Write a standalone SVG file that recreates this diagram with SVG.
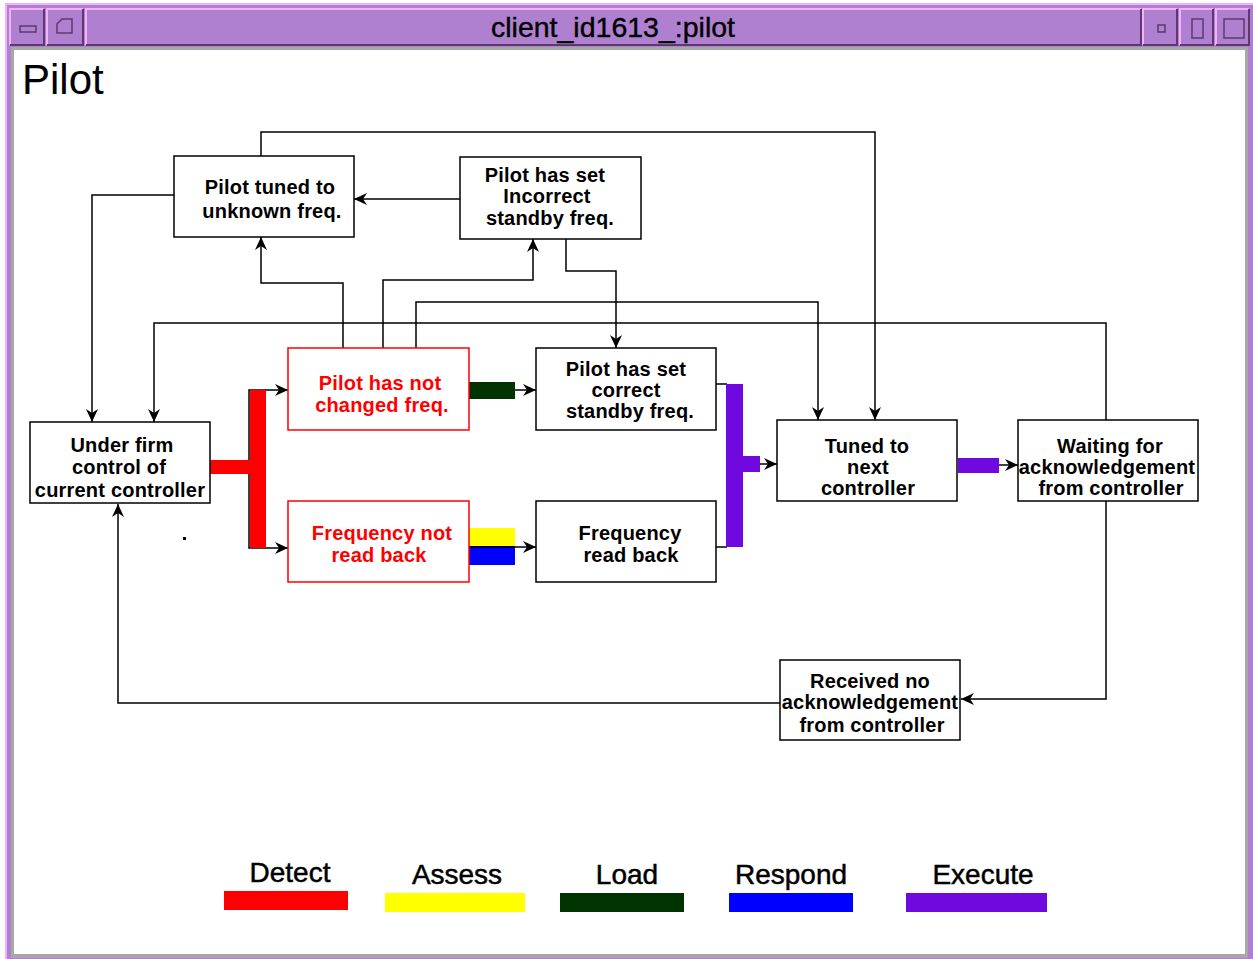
<svg xmlns="http://www.w3.org/2000/svg" width="1253" height="959" viewBox="0 0 1253 959">
<style>
.box{fill:#fff;stroke:#000;stroke-width:1.5}
.rbox{fill:#fff;stroke:#ff0000;stroke-width:1.5}
.t{font-family:"Liberation Sans",Arial,sans-serif;font-weight:bold;font-size:20px;letter-spacing:0.2px;text-anchor:middle;fill:#000}
.rt{fill:#ff0000}
.c{fill:none;stroke:#000;stroke-width:1.5}
.lg{font-family:"Liberation Sans",Arial,sans-serif;font-size:28px;text-anchor:middle;fill:#000;stroke:#000;stroke-width:0.5}
.btn{fill:#b080d0}
.hi{stroke:#f4b0fa;stroke-width:2;fill:none}
.lo{stroke:#5c3a6c;stroke-width:2;fill:none}
.ic{fill:none;stroke:#5c3a6c;stroke-width:1.5}
</style>
<defs>
<marker id="ah" markerUnits="userSpaceOnUse" markerWidth="14" markerHeight="12" refX="13" refY="6" orient="auto">
<path d="M0,0 L13,6 L0,12 L4,6 z" fill="#000"/>
</marker>
</defs>
<rect width="1253" height="959" fill="#fff"/>
<g id="window">
<rect x="5" y="3" width="1248" height="956" fill="#b080d0"/>
<line x1="5" y1="4" x2="1253" y2="4" class="hi"/>
<line x1="6" y1="4" x2="6" y2="959" class="hi"/>
<rect x="11" y="47" width="1237" height="911" fill="#a8a8a8"/>
<rect x="14" y="50" width="1231" height="904" fill="#fff"/>
<g id="btn-l1"><rect x="9" y="8" width="36" height="38" class="btn"/><path d="M10,45 V9 H44" class="hi"/><path d="M10,45 H44 V9" class="lo"/><rect x="20" y="26" width="16" height="6" class="ic"/></g>
<g id="btn-l2"><rect x="46" y="8" width="38" height="38" class="btn"/><path d="M47,45 V9 H83" class="hi"/><path d="M47,45 H83 V9" class="lo"/><path d="M57,33 V24 L62,19 H72 V33 Z" class="ic"/></g>
<g id="titlebar"><rect x="85" y="8" width="1057" height="38" class="btn"/><path d="M86,45 V9 H1141" class="hi"/><path d="M86,45 H1141 V9" class="lo"/>
<text x="613" y="37" font-family="'Liberation Sans',Arial,sans-serif" font-size="28.5" text-anchor="middle" fill="#000" stroke="#000" stroke-width="0.4">client_id1613_:pilot</text></g>
<g id="btn-r1"><rect x="1142" y="8" width="36" height="38" class="btn"/><path d="M1143,45 V9 H1177" class="hi"/><path d="M1143,45 H1177 V9" class="lo"/><rect x="1158" y="25" width="7" height="7" class="ic"/></g>
<g id="btn-r2"><rect x="1179" y="8" width="35" height="38" class="btn"/><path d="M1180,45 V9 H1213" class="hi"/><path d="M1180,45 H1213 V9" class="lo"/><rect x="1192" y="19" width="11" height="19" class="ic"/></g>
<g id="btn-r3"><rect x="1215" y="8" width="35" height="38" class="btn"/><path d="M1216,45 V9 H1249" class="hi"/><path d="M1216,45 H1249 V9" class="lo"/><rect x="1224" y="19" width="20" height="19" class="ic"/></g>
</g>
<text x="22" y="94" font-family="'Liberation Sans',Arial,sans-serif" font-size="42" fill="#000">Pilot</text>

<g id="connectors">
<polyline class="c" points="261,156 261,132 875,132 875,420" marker-end="url(#ah)"/>
<polyline class="c" points="174,195 92,195 92,422" marker-end="url(#ah)"/>
<polyline class="c" points="460,199 354,199" marker-end="url(#ah)"/>
<polyline class="c" points="343,348 343,283 261,283 261,237" marker-end="url(#ah)"/>
<polyline class="c" points="383,348 383,280 533,280 533,239" marker-end="url(#ah)"/>
<polyline class="c" points="416,348 416,302 818,302 818,420" marker-end="url(#ah)"/>
<polyline class="c" points="566,239 566,271 616,271 616,348" marker-end="url(#ah)"/>
<polyline class="c" points="1106,420 1106,323 154,323 154,422" marker-end="url(#ah)"/>
<polyline class="c" points="1106,501 1106,699 961,699" marker-end="url(#ah)"/>
<polyline class="c" points="780,703 118,703 118,504" marker-end="url(#ah)"/>
<polyline class="c" points="249,469 249,390 288,390" marker-end="url(#ah)"/>
<polyline class="c" points="249,469 249,548 288,548" marker-end="url(#ah)"/>
<rect x="210" y="460" width="40" height="14" fill="#ff0000"/>
<rect x="250" y="390" width="16" height="158" fill="#ff0000"/>
<rect x="469" y="382" width="46" height="17" fill="#003300"/>
<polyline class="c" points="515,390 536,390" marker-end="url(#ah)"/>
<rect x="469" y="528" width="46" height="18" fill="#ffff00"/>
<rect x="469" y="546" width="46" height="19" fill="#0000ff"/>
<polyline class="c" points="469,547 536,547" marker-end="url(#ah)"/>
<polyline class="c" points="716,384 727,384"/>
<polyline class="c" points="716,547 727,547"/>
<rect x="726" y="384" width="17" height="163" fill="#7008e0"/>
<rect x="743" y="456" width="17" height="16" fill="#7008e0"/>
<polyline class="c" points="760,464 777,464" marker-end="url(#ah)"/>
<rect x="958" y="458" width="41" height="15" fill="#7008e0"/>
<polyline class="c" points="999,465 1018,465" marker-end="url(#ah)"/>
</g>
<rect x="183" y="537" width="3" height="3" fill="#000"/>

<g id="n-unknown"><rect x="174" y="156" width="180" height="81" class="box"/>
<text class="t" x="270" y="194">Pilot tuned to</text><text class="t" x="272" y="218">unknown freq.</text></g>
<g id="n-incorrect"><rect x="460" y="157" width="181" height="82" class="box"/>
<text class="t" x="545" y="182">Pilot has set</text><text class="t" x="547" y="203">Incorrect</text><text class="t" x="550" y="225">standby freq.</text></g>
<g id="n-notchanged"><rect x="288" y="348" width="181" height="82" class="rbox"/>
<text class="t rt" x="380" y="390">Pilot has not</text><text class="t rt" x="382" y="412">changed freq.</text></g>
<g id="n-notread"><rect x="288" y="501" width="181" height="81" class="rbox"/>
<text class="t rt" x="382" y="540">Frequency not</text><text class="t rt" x="379" y="562">read back</text></g>
<g id="n-correct"><rect x="536" y="348" width="180" height="82" class="box"/>
<text class="t" x="626" y="376">Pilot has set</text><text class="t" x="626" y="397">correct</text><text class="t" x="630" y="418">standby freq.</text></g>
<g id="n-readback"><rect x="536" y="501" width="180" height="81" class="box"/>
<text class="t" x="630" y="540">Frequency</text><text class="t" x="631" y="562">read back</text></g>
<g id="n-tuned"><rect x="777" y="420" width="180" height="81" class="box"/>
<text class="t" x="867" y="453">Tuned to</text><text class="t" x="868" y="474">next</text><text class="t" x="868" y="495">controller</text></g>
<g id="n-waiting"><rect x="1018" y="420" width="180" height="81" class="box"/>
<text class="t" x="1110" y="453">Waiting for</text><text class="t" x="1107" y="474">acknowledgement</text><text class="t" x="1111" y="495">from controller</text></g>
<g id="n-underfirm"><rect x="30" y="422" width="180" height="81" class="box"/>
<text class="t" x="122" y="452">Under firm</text><text class="t" x="119" y="474">control of</text><text class="t" x="120" y="497">current controller</text></g>
<g id="n-received"><rect x="780" y="660" width="180" height="80" class="box"/>
<text class="t" x="870" y="688">Received no</text><text class="t" x="870" y="709">acknowledgement</text><text class="t" x="872" y="732">from controller</text></g>

<g id="legend">
<text class="lg" x="290" y="882">Detect</text><rect x="224" y="891" width="124" height="19" fill="#ff0000"/>
<text class="lg" x="457" y="884">Assess</text><rect x="385" y="893" width="140" height="19" fill="#ffff00"/>
<text class="lg" x="627" y="884">Load</text><rect x="560" y="893" width="124" height="19" fill="#003300"/>
<text class="lg" x="791" y="884">Respond</text><rect x="729" y="893" width="124" height="19" fill="#0000ff"/>
<text class="lg" x="983" y="884">Execute</text><rect x="906" y="893" width="141" height="19" fill="#7008e0"/>
</g>
</svg>
